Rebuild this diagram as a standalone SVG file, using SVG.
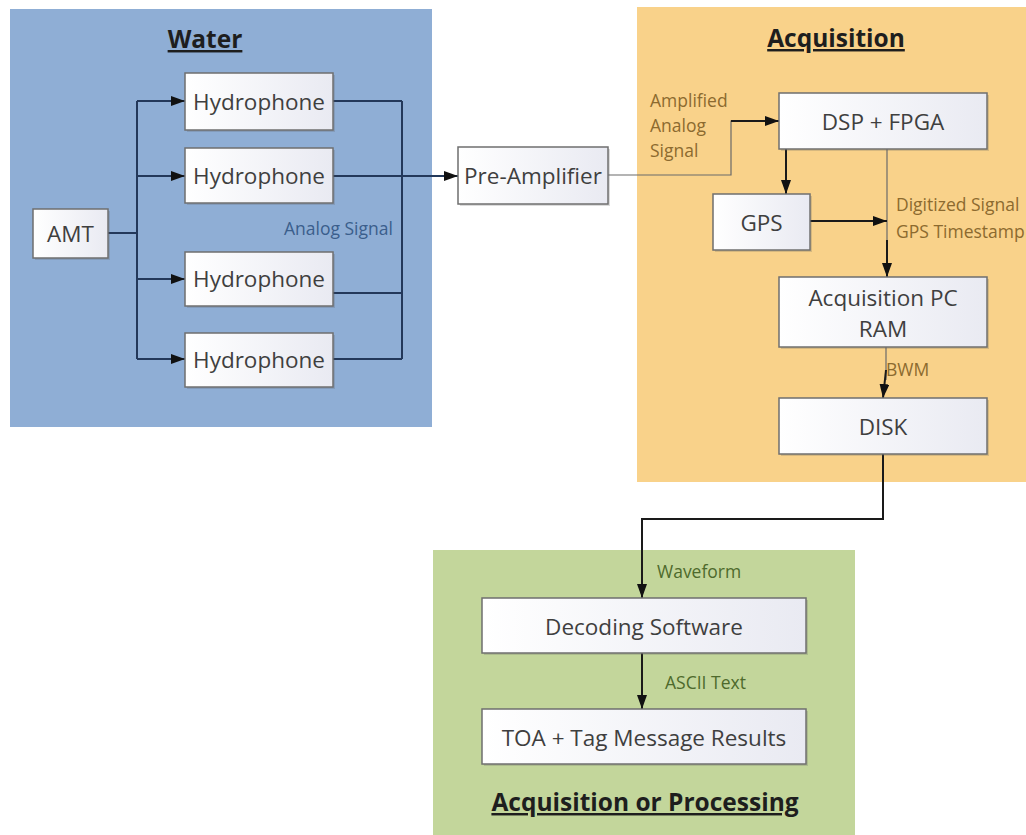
<svg xmlns="http://www.w3.org/2000/svg" width="1026" height="835" viewBox="0 0 1026 835">
<defs>
<linearGradient id="boxg" x1="0" y1="0" x2="1" y2="0">
<stop offset="0" stop-color="#ffffff"/>
<stop offset="1" stop-color="#e9eaf2"/>
</linearGradient>
<marker id="arr" viewBox="0 0 14 10" refX="14" refY="5" markerWidth="14" markerHeight="10" markerUnits="userSpaceOnUse" orient="auto">
<path d="M0,0 L14,5 L0,10 z" fill="#111"/>
</marker>
</defs>
<style>
.box{fill:url(#boxg);stroke:#6f6f6f;stroke-width:1.5}
.shadow{fill:#5a5a5a;opacity:0.22}
.t{font-family:"Open Sans","Liberation Sans",sans-serif;font-size:22.5px;fill:#3f3f3f;text-anchor:middle}
.title{font-family:"Open Sans","Liberation Sans",sans-serif;font-size:24.5px;font-weight:bold;fill:#1e1e1e;text-anchor:middle;text-decoration:underline}
.lbl{font-family:"Open Sans","Liberation Sans",sans-serif;font-size:17.5px}
.w{fill:none;stroke:#23385a;stroke-width:2}
.k{fill:none;stroke:#1a1a1a;stroke-width:2}
.thin{fill:none;stroke:#6a6a6a;stroke-width:1.2}
</style>
<rect width="1026" height="835" fill="#ffffff"/>
<g id="panels">
<rect x="10" y="9" width="422" height="418" fill="#8faed5"/>
<rect x="637" y="7" width="389" height="475" fill="#f9d28a"/>
<rect x="433" y="550" width="422" height="285" fill="#c3d69b"/>
<text class="title" x="205" y="48">Water</text>
<text class="title" x="836" y="47">Acquisition</text>
<text class="title" x="645" y="811">Acquisition or Processing</text>
</g>
<g id="connectors">
<path class="w" d="M108,233 H137 M137,101 V359"/>
<path class="w" d="M137,101 H185" marker-end="url(#arr)"/>
<path class="w" d="M137,176 H185" marker-end="url(#arr)"/>
<path class="w" d="M137,279 H185" marker-end="url(#arr)"/>
<path class="w" d="M137,359 H185" marker-end="url(#arr)"/>
<path class="w" d="M333,101 H402 M333,176 H402 M333,293 H402 M333,359 H402 M402,101 V359"/>
<path class="w" d="M402,176 H458" marker-end="url(#arr)"/>
<path class="thin" d="M608,175 H731 V121 H765"/>
<path class="k" d="M731,121 H779" marker-end="url(#arr)"/>
<path class="k" d="M786,149 V194" marker-end="url(#arr)"/>
<path class="thin" d="M887,149 V255"/>
<path class="k" d="M887,240 V277" marker-end="url(#arr)"/>
<path class="k" d="M810,221 H887" marker-end="url(#arr)"/>
<path class="thin" d="M886,347 V380"/>
<path class="k" d="M886,370 L883,398" marker-end="url(#arr)"/>
<path class="k" d="M883,454 V519 H642 V598" marker-end="url(#arr)"/>
<path class="k" d="M642,653 V709" marker-end="url(#arr)"/>
<text class="lbl" x="284" y="235" fill="#3b5e8c">Analog Signal</text>
<text class="lbl" x="650" y="107" fill="#8c6a2f">Amplified</text>
<text class="lbl" x="650" y="132" fill="#8c6a2f">Analog</text>
<text class="lbl" x="650" y="157" fill="#8c6a2f">Signal</text>
<text class="lbl" x="896" y="211" fill="#8c6a2f">Digitized Signal</text>
<text class="lbl" x="896" y="238" fill="#8c6a2f">GPS Timestamp</text>
<text class="lbl" x="886" y="376" fill="#8c6a2f">BWM</text>
<text class="lbl" x="657" y="578" fill="#4e6a2c">Waveform</text>
<text class="lbl" x="665" y="689" fill="#4e6a2c">ASCII Text</text>
</g>
<g id="amt">
<rect class="shadow" x="35" y="211" width="75" height="49"/>
<rect class="box" x="33" y="209" width="75" height="49"/>
<text class="t" x="70.5" y="242">AMT</text>
</g>
<g id="hydrophone1">
<rect class="shadow" x="187" y="75" width="148" height="57"/>
<rect class="box" x="185" y="73" width="148" height="57"/>
<text class="t" x="259" y="110">Hydrophone</text>
</g>
<g id="hydrophone2">
<rect class="shadow" x="187" y="150" width="148" height="55"/>
<rect class="box" x="185" y="148" width="148" height="55"/>
<text class="t" x="259" y="184">Hydrophone</text>
</g>
<g id="hydrophone3">
<rect class="shadow" x="187" y="254" width="148" height="54"/>
<rect class="box" x="185" y="252" width="148" height="54"/>
<text class="t" x="259" y="287">Hydrophone</text>
</g>
<g id="hydrophone4">
<rect class="shadow" x="187" y="335" width="148" height="54"/>
<rect class="box" x="185" y="333" width="148" height="54"/>
<text class="t" x="259" y="368">Hydrophone</text>
</g>
<g id="preamp">
<rect class="shadow" x="460" y="149" width="150" height="57"/>
<rect class="box" x="458" y="147" width="150" height="57"/>
<text class="t" x="533" y="184">Pre-Amplifier</text>
</g>
<g id="dsp">
<rect class="shadow" x="781" y="95" width="208" height="56"/>
<rect class="box" x="779" y="93" width="208" height="56"/>
<text class="t" x="883" y="130">DSP + FPGA</text>
</g>
<g id="gps">
<rect class="shadow" x="715" y="196" width="97" height="56"/>
<rect class="box" x="713" y="194" width="97" height="56"/>
<text class="t" x="761.5" y="231">GPS</text>
</g>
<g id="acqpc">
<rect class="shadow" x="781" y="279" width="208" height="70"/>
<rect class="box" x="779" y="277" width="208" height="70"/>
<text class="t" x="883" y="306">Acquisition PC</text>
<text class="t" x="883" y="337">RAM</text>
</g>
<g id="disk">
<rect class="shadow" x="781" y="400" width="208" height="56"/>
<rect class="box" x="779" y="398" width="208" height="56"/>
<text class="t" x="883" y="435">DISK</text>
</g>
<g id="decoding">
<rect class="shadow" x="484" y="600" width="324" height="55"/>
<rect class="box" x="482" y="598" width="324" height="55"/>
<text class="t" x="644" y="635">Decoding Software</text>
</g>
<g id="toa">
<rect class="shadow" x="484" y="711" width="324" height="55"/>
<rect class="box" x="482" y="709" width="324" height="55"/>
<text class="t" x="644" y="746">TOA + Tag Message Results</text>
</g>
</svg>
